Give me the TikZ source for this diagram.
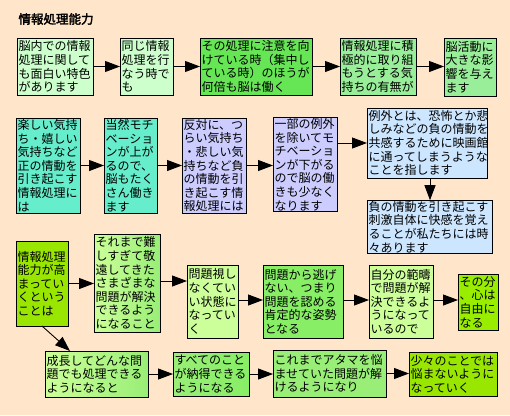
\documentclass[tikz,border=0pt]{standalone}
\usepackage{fontspec}
\newfontfamily\jp{Noto Sans CJK JP}
\newfontfamily\jpbold{Noto Sans CJK JP}[FakeBold=2.5]
\usetikzlibrary{arrows.meta}
\definecolor{bg}{HTML}{FFE6CA}
\definecolor{cA}{HTML}{CCFFCC}
\definecolor{cC}{HTML}{66E655}
\definecolor{cD}{HTML}{99EE99}
\definecolor{cF}{HTML}{66EECC}
\definecolor{cH}{HTML}{CCCCFF}
\definecolor{cJ}{HTML}{CCE6FF}
\definecolor{cL}{HTML}{99E600}
\definecolor{cM}{HTML}{99EE77}
\definecolor{cN}{HTML}{CCFF99}
\definecolor{cO}{HTML}{88EE66}
\definecolor{cQ}{HTML}{99EE00}
\begin{document}
\begin{tikzpicture}[x=1pt,y=-1pt,
  box/.style={draw=black, line width=0.9pt, inner xsep=1.5pt, inner ysep=1pt, outer sep=0pt,
    align=left, font=\jp\fontsize{12}{13.6}\selectfont},
  conn/.style={draw=black, line width=0.9pt, -{Triangle[length=15pt,width=11pt]}}]
\useasboundingbox (0,0) rectangle (510,415);
\fill[bg] (0,0) rectangle (510,415);
\node[anchor=west, font=\jpbold\fontsize{12.5}{14}\selectfont] (title) at (15,19) {情報処理能力};
% row 1
\node[box, fill=cA, minimum width=76pt, text width=73pt, minimum height=57pt] (A) at (55,66.5) {脳内での情報\\処理に関して\\も面白い特色\\があります};
\node[box, fill=cA, minimum width=53pt, text width=50pt, minimum height=57pt] (B) at (146.5,66.5) {同じ情報\\処理を行\\なう時で\\も};
\node[box, fill=cC, minimum width=112pt, text width=109pt, minimum height=57pt] (C) at (256,66.5) {その処理に注意を向\\けている時（集中し\\ている時）のほうが\\何倍も脳は働く};
\node[box, fill=cD, minimum width=76pt, text width=73pt, minimum height=57pt] (D) at (378,66.5) {情報処理に積\\極的に取り組\\もうとする気\\持ちの有無が};
\node[box, fill=cD, minimum width=52pt, text width=49pt, minimum height=58pt] (E) at (470,67) {脳活動に\\大きな影\\響を与え\\ます};
% row 2
\node[box, fill=cF, minimum width=64pt, text width=61pt, minimum height=95pt] (F) at (48,165.5) {楽しい気持\\ち・嬉しい\\気持ちなど\\正の情動を\\引き起こす\\情報処理に\\は};
\node[box, fill=cF, minimum width=53pt, text width=50pt, minimum height=95pt] (G) at (130.5,165.5) {当然モチ\\ベーショ\\ンが上が\\るので、\\脳もたく\\さん働き\\ます};
\node[box, fill=cH, minimum width=64pt, text width=61pt, minimum height=95pt] (H) at (214,165.5) {反対に、つ\\らい気持ち\\・悲しい気\\持ちなど負\\の情動を引\\き起こす情\\報処理には};
\node[box, fill=cH, minimum width=64pt, text width=61pt, minimum height=93pt] (I) at (305,164.5) {一部の例外\\を除いてモ\\チベーショ\\ンが下がる\\ので脳の働\\きも少なく\\なります};
\node[box, fill=cJ, minimum width=120pt, text width=117pt, minimum height=70pt] (J) at (427,143) {例外とは、恐怖とか悲\\しみなどの負の情動を\\共感するために映画館\\に通ってしまうような\\ことを指します};
\node[box, fill=cJ, minimum width=125pt, text width=122pt, minimum height=52pt] (K) at (429.5,227) {負の情動を引き起こす\\刺激自体に快感を覚え\\ることが私たちには時\\々あります};
% row 3
\node[box, fill=cL, minimum width=52pt, text width=49pt, minimum height=85pt] (L) at (42,283.5) {情報処理\\能力が高\\まってい\\くという\\ことは};
\node[box, left color=cN, right color=cM, draw=black, minimum width=66pt, text width=63pt, minimum height=98pt] (M) at (127,283) {それまで難\\しすぎて敬\\遠してきた\\さまざまな\\問題が解決\\できるよう\\になること};
\node[box, fill=cN, minimum width=51pt, text width=48pt, minimum height=73pt] (N) at (212.5,301.5) {問題視し\\なくてい\\い状態に\\なってい\\く};
\node[box, fill=cO, minimum width=80pt, text width=77pt, minimum height=73pt] (O) at (303,301.5) {問題から逃げ\\ない、つまり\\問題を認める\\肯定的な姿勢\\となる};
\node[box, fill=cN, minimum width=64pt, text width=61pt, minimum height=73pt] (P) at (401,301.5) {自分の範疇\\で問題が解\\決できるよ\\うになって\\いるので};
\node[box, fill=cQ, minimum width=40pt, text width=37pt, minimum height=56pt] (Q) at (478,302) {その分\\、心は\\自由に\\なる};
% row 4
\node[box, left color=cN, right color=cM, draw=black, minimum width=103pt, text width=100pt, minimum height=46pt] (R) at (96.5,374) {成長してどんな問\\題でも処理できる\\ようになると};
\node[box, left color=cM, right color=cO, draw=black, minimum width=76pt, text width=73pt, minimum height=44pt] (S) at (211,374) {すべてのこと\\が納得できる\\ようになる};
\node[box, fill=cM, minimum width=113pt, text width=110pt, minimum height=47pt] (T) at (329.5,373.5) {これまでアタマを悩\\ませていた問題が解\\けるようになり};
\node[box, fill=cL, minimum width=88pt, text width=85pt, minimum height=44pt] (U) at (453,374) {少々のことでは\\悩まないように\\なっていく};
% connectors
\draw[conn] (A.east) -- (B.west);
\draw[conn] (B.east) -- (C.west);
\draw[conn] (C.east) -- (D.west);
\draw[conn] (D.east) -- (D.east -| E.west);
\draw[conn] (F.east) -- (F.east -| G.west);
\draw[conn] (G.east) -- (G.east -| H.west);
\draw[conn] (H.east) -- (H.east -| I.west);
\draw[conn] (I.east |- J.west) -- (J.west);
\draw[conn] ([xshift=3pt]J.south) -- ([xshift=3pt]J.south |- K.north);
\draw[conn] (L.east) -- (L.east -| M.west);
\draw[conn] ([yshift=2pt]M.east) -- ([yshift=2pt]M.east -| N.west);
\draw[conn] ([yshift=1.5pt]N.east) -- ([yshift=1.5pt]N.east -| O.west);
\draw[conn] ([yshift=1.5pt]O.east) -- ([yshift=1.5pt]O.east -| P.west);
\draw[conn] ([yshift=1.5pt]P.east) -- ([yshift=1.5pt]P.east -| Q.west);
\draw[conn] (L.south) -- ([xshift=25pt]R.north west);
\draw[conn] (R.east) -- (R.east -| S.west);
\draw[conn] (S.east) -- (S.east -| T.west);
\draw[conn] (T.east) -- (T.east -| U.west);
\end{tikzpicture}
\end{document}
